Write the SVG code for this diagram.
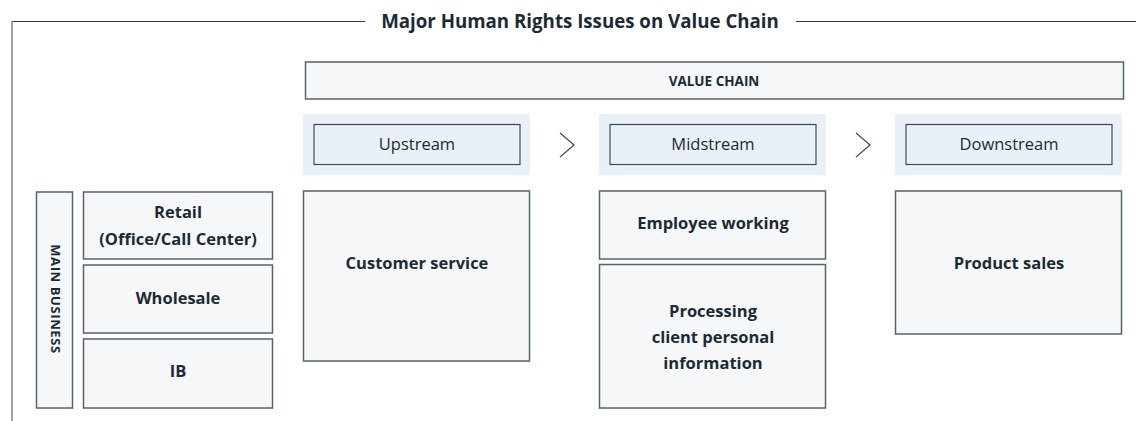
<svg xmlns="http://www.w3.org/2000/svg" width="1136" height="421" viewBox="0 0 1136 421">
<style>
.t{font-family:"Open Sans","Noto Sans",sans-serif;fill:#1b2b36;text-anchor:middle}
.b{font-weight:700;font-size:16.5px}
.r{font-weight:400;font-size:16.5px}
.box{fill:#f5f7f9;stroke:#56636b;stroke-width:1.5}
.band{fill:#e9f0f8}
.stage{fill:#e9f0f8;stroke:#3e4b54;stroke-width:1.2}
</style>
<rect width="1136" height="421" fill="#fff"/>
<g id="frame">
<line x1="12" y1="21.5" x2="365" y2="21.5" stroke="#2b3a42" stroke-width="1.2"/>
<line x1="796" y1="21.5" x2="1136" y2="21.5" stroke="#2b3a42" stroke-width="1.2"/>
<line x1="12" y1="21" x2="12" y2="421" stroke="#7a868e" stroke-width="1.5"/>
<text class="t" x="580" y="28" font-weight="700" font-size="18.7">Major Human Rights Issues on Value Chain</text>
</g>
<g id="value-chain">
<rect class="box" x="305.5" y="62" width="818" height="37"/>
<text class="t" x="714" y="86" font-weight="700" font-size="13.5">VALUE CHAIN</text>
</g>
<g id="upstream">
<rect class="band" x="303" y="114" width="227" height="61"/>
<rect class="stage" x="314" y="124.5" width="206" height="40"/>
<text class="t r" x="417" y="150">Upstream</text>
</g>
<g id="midstream">
<rect class="band" x="599" y="114" width="227" height="61"/>
<rect class="stage" x="610" y="124.5" width="206" height="40"/>
<text class="t r" x="713" y="150">Midstream</text>
</g>
<g id="downstream">
<rect class="band" x="895" y="114" width="227" height="61"/>
<rect class="stage" x="906" y="124.5" width="206" height="40"/>
<text class="t r" x="1009" y="150">Downstream</text>
</g>
<g id="connectors" fill="none" stroke="#3e4b54" stroke-width="1.2">
<polyline points="560,133 574,145 560,157"/>
<polyline points="856,133 870,145 856,157"/>
</g>
<g id="main-business">
<rect class="box" x="36.5" y="192" width="36" height="216"/>
<text class="t" transform="translate(50.5,299) rotate(90)" font-weight="700" font-size="13" letter-spacing="0.6">MAIN BUSINESS</text>
</g>
<g id="retail">
<rect class="box" x="83.5" y="192" width="189" height="67"/>
<text class="t b" x="178" y="218">Retail</text>
<text class="t b" x="178" y="245">(Office/Call Center)</text>
</g>
<g id="wholesale">
<rect class="box" x="83.5" y="265" width="189" height="68"/>
<text class="t b" x="178" y="304">Wholesale</text>
</g>
<g id="ib">
<rect class="box" x="83.5" y="339" width="189" height="69"/>
<text class="t b" x="178" y="377">IB</text>
</g>
<g id="customer-service">
<rect class="box" x="303.5" y="191" width="226" height="170"/>
<text class="t b" x="417" y="269">Customer service</text>
</g>
<g id="employee-working">
<rect class="box" x="599.5" y="191" width="226" height="68"/>
<text class="t b" x="713" y="229">Employee working</text>
</g>
<g id="processing">
<rect class="box" x="599.5" y="264.5" width="226" height="143.5"/>
<text class="t b" x="713" y="317">Processing</text>
<text class="t b" x="713" y="343">client personal</text>
<text class="t b" x="713" y="369">information</text>
</g>
<g id="product-sales">
<rect class="box" x="895.5" y="191" width="226" height="143"/>
<text class="t b" x="1009" y="269">Product sales</text>
</g>
</svg>
